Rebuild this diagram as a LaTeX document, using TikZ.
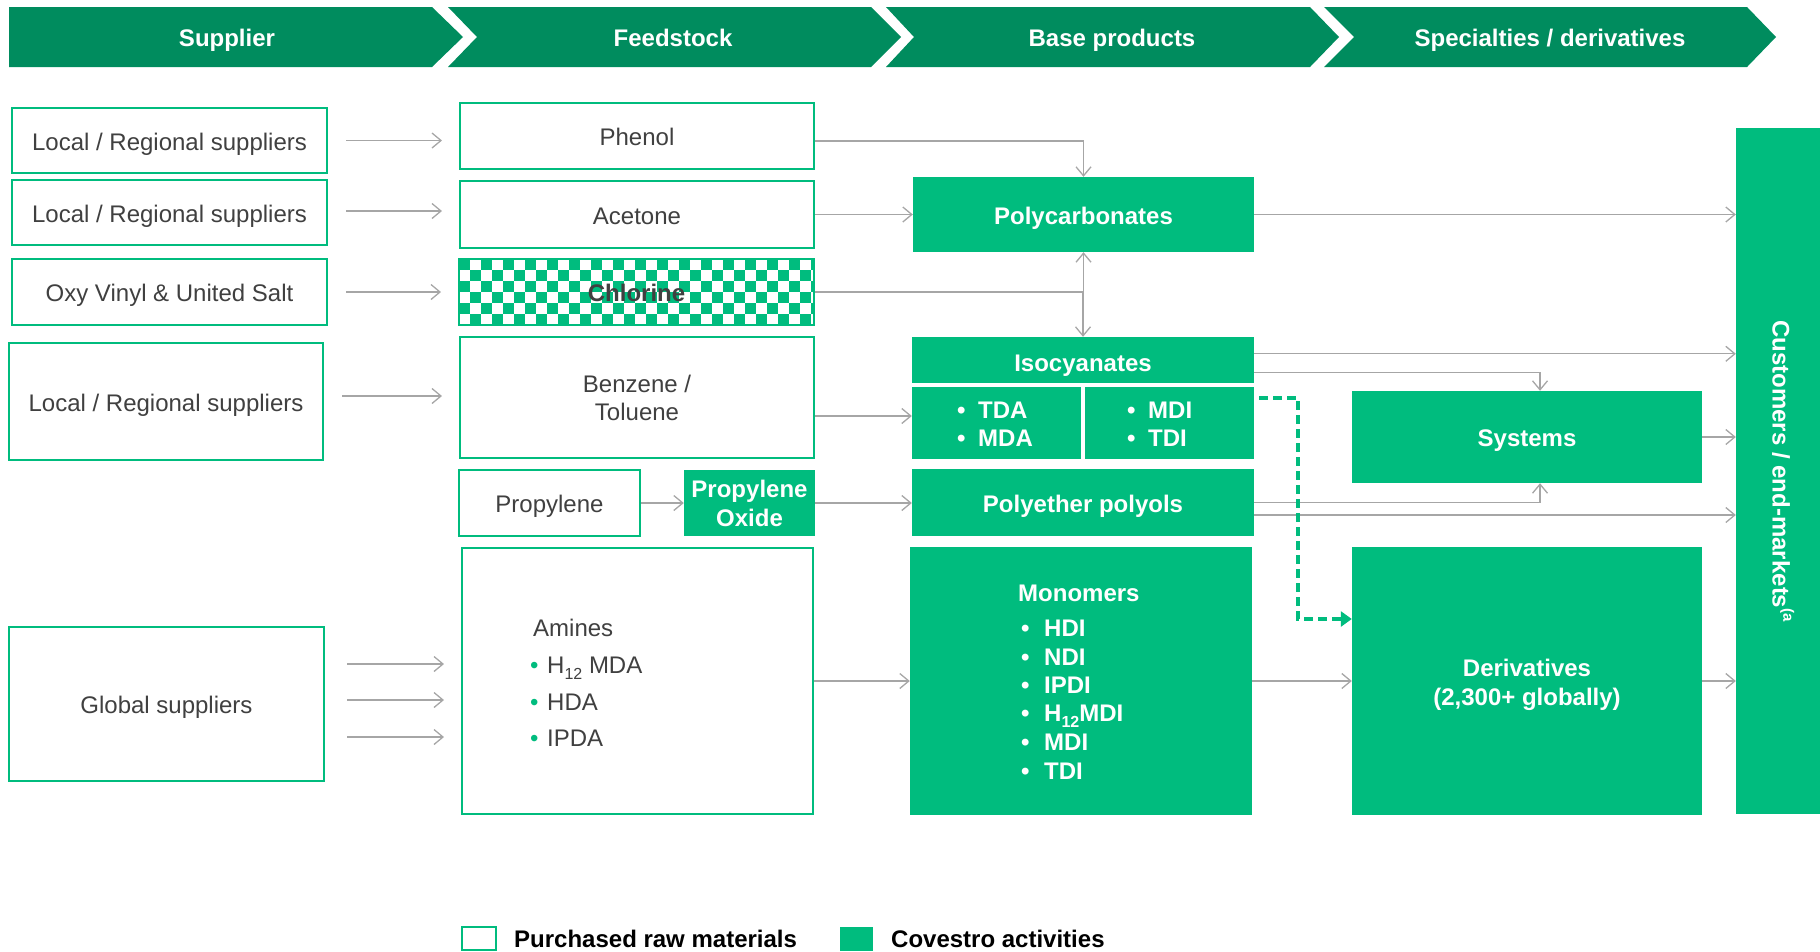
\documentclass[tikz,border=0pt]{standalone}
\usepackage{fontspec}
\setmainfont{Liberation Sans}
\usetikzlibrary{arrows.meta}
\definecolor{hdr}{HTML}{008C5E}
\definecolor{cg}{HTML}{00BC7E}
\definecolor{lg}{HTML}{A6A6A6}
\definecolor{tg}{HTML}{404040}
\newcommand{\bigfs}{\fontsize{24}{28}\selectfont}
\newcommand{\sbs}[1]{\raisebox{-0.25em}{\fontsize{16}{16}\selectfont #1}}
\tikzset{
 sl/.style={text height=19pt, text depth=0pt},
 wbase/.style={draw=cg, line width=2pt, fill=white, text=tg, font=\bigfs, inner sep=0pt, align=center},
 gbase/.style={fill=cg, text=white, font=\bigfs\bfseries, inner sep=0pt, align=center},
 wbox/.style={wbase, sl},
 gbox/.style={gbase, sl},
 arr/.style={draw=lg, line width=1.3pt, -{Straight Barb[length=9pt,width=15pt]}},
 dasharr/.style={draw=cg, line width=3.5pt, dash pattern=on 9pt off 5pt, -{Triangle[length=11pt,width=15pt]}},
 wtxt/.style={inner sep=0pt, font=\bigfs\bfseries, text=white, sl},
 gtxt/.style={inner sep=0pt, font=\bigfs, text=tg, sl},
 htxt/.style={inner sep=0pt, font=\bigfs\bfseries, text=white, sl},
}
\begin{document}
\begin{tikzpicture}[x=1pt,y=-1pt]
\useasboundingbox (0,0) rectangle (1820,951);
% header chevrons
\fill[hdr] (9,7) -- (432,7) -- (463,37) -- (432,67) -- (9,67) -- cycle;
\fill[hdr] (448,7) -- (871,7) -- (901,37) -- (871,67) -- (448,67) -- (477,37) -- cycle;
\fill[hdr] (886,7) -- (1310,7) -- (1339,37) -- (1310,67) -- (886,67) -- (914,37) -- cycle;
\fill[hdr] (1324,7) -- (1747,7) -- (1776,37) -- (1747,67) -- (1324,67) -- (1354,37) -- cycle;
\node[htxt] (h1) at (227,37) {Supplier};
\node[htxt] (h2) at (673,37) {Feedstock};
\node[htxt] (h3) at (1112,37) {Base products};
\node[htxt] (h4) at (1550,37) {Specialties / derivatives};

% suppliers
\node[wbox, minimum width=315pt, minimum height=65pt] (sA) at (169.5,140.5) {Local / Regional suppliers};
\node[wbox, minimum width=315pt, minimum height=65pt] (sB) at (169.5,212.5) {Local / Regional suppliers};
\node[wbox, minimum width=315pt, minimum height=66pt] (sC) at (169.5,292) {Oxy Vinyl \& United Salt};
\node[wbox, minimum width=314pt, minimum height=117pt] (sD) at (166,401.5) {Local / Regional suppliers};
\node[wbox, minimum width=315pt, minimum height=154pt] (sG) at (166.5,704) {Global suppliers};

% feedstock
\node[wbox, minimum width=354pt, minimum height=66pt] (phenol) at (637,136) {Phenol};
\node[wbox, minimum width=354pt, minimum height=67pt] (acetone) at (637,214.5) {Acetone};
\begin{scope}
\clip (459,259) rectangle (814,325);
\foreach \i in {0,...,32}{\foreach \j in {0,...,5}{
  \pgfmathtruncatemacro\ckm{mod(\i+\j,2)}
  \ifnum\ckm=0 \fill[cg] (459+11*\i,259+11*\j) rectangle ++(11,11); \fi
}}
\end{scope}
\node[draw=cg, line width=2pt, inner sep=0pt, minimum width=355pt, minimum height=66pt, text=tg, font=\bigfs\bfseries, sl] (chlorine) at (636.5,292) {Chlorine};
\node[wbase, minimum width=354pt, minimum height=121pt] (benzene) at (637,397.5) {Benzene /\\Toluene};
\node[wbox, minimum width=181pt, minimum height=66pt] (propylene) at (549.5,503) {Propylene};
\node[gbase, minimum width=131pt, minimum height=66pt, font=\fontsize{24}{29}\selectfont\bfseries] (po) at (749.5,503) {Propylene\\Oxide};
\node[wbox, minimum width=351pt, minimum height=266pt] (amines) at (637.5,681) {};
\node[gtxt, anchor=base west] (am0) at (533,636.6) {Amines};
\node[gtxt, anchor=base west] (am1) at (530,673.6) {\makebox[17pt][l]{\textcolor{cg}{•}}H\sbs{12} MDA};
\node[gtxt, anchor=base west] (am2) at (530,710.6) {\makebox[17pt][l]{\textcolor{cg}{•}}HDA};
\node[gtxt, anchor=base west] (am3) at (530,746.6) {\makebox[17pt][l]{\textcolor{cg}{•}}IPDA};

% base products
\node[gbox, minimum width=341pt, minimum height=75pt] (pc) at (1083.5,214.5) {Polycarbonates};
\node[gbox, minimum width=342pt, minimum height=122pt] (iso) at (1083,398) {};
\draw[white, line width=4pt] (912,385) -- (1254,385);
\draw[white, line width=4pt] (1083,385) -- (1083,459);
\node[wtxt] (isot) at (1083,362) {Isocyanates};
\node[wtxt, anchor=base west] (i1) at (957,418.6) {\makebox[21pt][l]{•}TDA};
\node[wtxt, anchor=base west] (i2) at (957,446.6) {\makebox[21pt][l]{•}MDA};
\node[wtxt, anchor=base west] (i3) at (1127,418.6) {\makebox[21pt][l]{•}MDI};
\node[wtxt, anchor=base west] (i4) at (1127,446.6) {\makebox[21pt][l]{•}TDI};
\node[gbox, minimum width=342pt, minimum height=67pt] (polyols) at (1083,502.5) {Polyether polyols};
\node[gbox, minimum width=342pt, minimum height=268pt] (monomers) at (1081,681) {};
\node[wtxt, anchor=base west] (m0) at (1018,601.6) {Monomers};
\node[wtxt, anchor=base west] (m1) at (1021,636.6) {\makebox[23pt][l]{•}HDI};
\node[wtxt, anchor=base west] (m2) at (1021,665.6) {\makebox[23pt][l]{•}NDI};
\node[wtxt, anchor=base west] (m3) at (1021,693.6) {\makebox[23pt][l]{•}IPDI};
\node[wtxt, anchor=base west] (m4) at (1021,721.6) {\makebox[23pt][l]{•}H\sbs{12}MDI};
\node[wtxt, anchor=base west] (m5) at (1021,750.6) {\makebox[23pt][l]{•}MDI};
\node[wtxt, anchor=base west] (m6) at (1021,779.6) {\makebox[23pt][l]{•}TDI};

% specialties
\node[gbox, minimum width=350pt, minimum height=92pt] (systems) at (1527,437) {Systems};
\node[gbox, minimum width=350pt, minimum height=268pt] (deriv) at (1527,681) {};
\node[inner sep=0pt, align=center, text=white, font=\fontsize{24}{29}\selectfont\bfseries] (derivt) at (1527,685) {Derivatives\\(2,300+ globally)};
\node[gbox, minimum width=84pt, minimum height=686pt] (cust) at (1778,471) {};
\node[wtxt, rotate=-90] (custt) at (1782,471) {Customers / end-markets\raisebox{0.45em}{\fontsize{15}{15}\selectfont(a}};

% supplier arrows
\draw[arr, shorten <=18pt, shorten >=17pt] (sA.east) -- (sA.east -| phenol.west);
\draw[arr, shorten <=18pt, shorten >=17pt] ([yshift=1.5pt]sB.east) -- ([yshift=1.5pt]sB.east -| acetone.west);
\draw[arr, shorten <=18pt, shorten >=17pt] (sC.east) -- (sC.east -| chlorine.west);
\draw[arr, shorten <=18pt, shorten >=17pt] ([yshift=5.5pt]sD.east) -- ([yshift=5.5pt]sD.east -| benzene.west);
\draw[arr, shorten <=22pt, shorten >=17pt] ([yshift=40pt]sG.east) -- ([yshift=40pt]sG.east -| amines.west);
\draw[arr, shorten <=22pt, shorten >=17pt] ([yshift=4pt]sG.east) -- ([yshift=4pt]sG.east -| amines.west);
\draw[arr, shorten <=22pt, shorten >=17pt] ([yshift=-33pt]sG.east) -- ([yshift=-33pt]sG.east -| amines.west);

% feedstock to base
\draw[arr] ([yshift=-5pt]phenol.east) -| (pc.north);
\draw[arr] (acetone.east) -- (pc.west);
\draw[arr] (chlorine.east) -| (pc.south);
\draw[arr] (chlorine.east) -| (iso.north);
\draw[arr] ([yshift=-18.5pt]benzene.east) -- ([yshift=-18.5pt]benzene.east -| iso.west);
\draw[arr] (propylene.east) -- (po.west);
\draw[arr] (po.east) -- (po.east -| polyols.west);
\draw[arr] (amines.east) -- (amines.east -| monomers.west);

% base to specialties / customers
\draw[arr] (pc.east) -- (pc.east -| cust.west);
\draw[arr] ([yshift=-17pt]iso.north east) -- ([yshift=-17pt]iso.north east -| cust.west);
\draw[arr] ([yshift=-36pt]iso.north east) -| ([xshift=13pt]systems.north);
\draw[arr] (polyols.east) -| ([xshift=13pt]systems.south);
\draw[arr] ([yshift=-12.5pt]polyols.east) -- ([yshift=-12.5pt]polyols.east -| cust.west);
\draw[arr] (systems.east) -- (systems.east -| cust.west);
\draw[arr] (monomers.east) -- (monomers.east -| deriv.west);
\draw[arr] (deriv.east) -- (deriv.east -| cust.west);
\draw[dasharr] ([xshift=5pt]iso.east) -- ++(39pt,0) |- ([yshift=62pt]deriv.west);

% legend
\node[wbase, minimum width=34pt, minimum height=23pt] (leg1) at (479,938.5) {};
\node[inner sep=0pt, anchor=west, font=\bigfs\bfseries, text=black] (leg1t) at (514,939) {Purchased raw materials};
\node[gbase, minimum width=33pt, minimum height=24pt] (leg2) at (856.5,939) {};
\node[inner sep=0pt, anchor=west, font=\bigfs\bfseries, text=black] (leg2t) at (891,939) {Covestro activities};
\end{tikzpicture}
\end{document}
